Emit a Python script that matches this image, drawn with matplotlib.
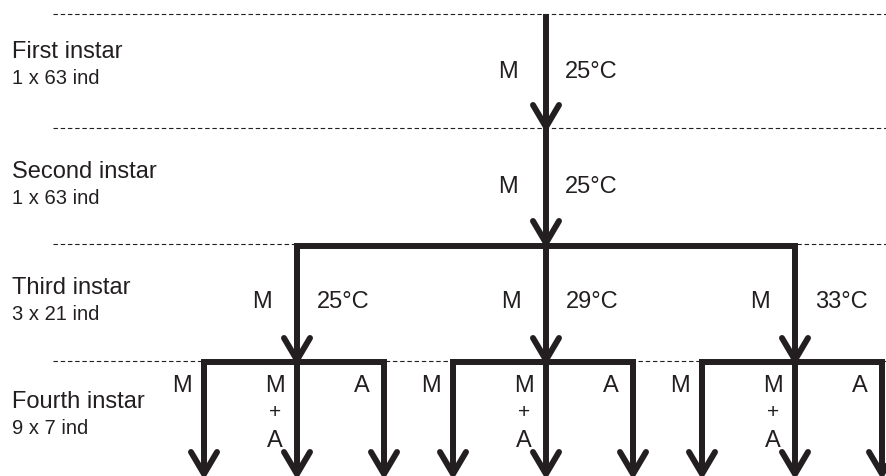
import matplotlib.pyplot as plt

# stage labels shown on the left
STAGES = ["First instar", "Second instar", "Third instar", "Fourth instar"]
COUNTS = ["1 x 63 ind", "1 x 63 ind", "3 x 21 ind", "9 x 7 ind"]
# rearing temperature per step
TEMPS_TOP = ["25°C", "25°C"]
TEMPS_THIRD = ["25°C", "29°C", "33°C"]
# labels on the fourth-instar sub-branches
FOURTH_LABELS = ["M", "M\n+\nA", "A"]

INK = "#231f20"
W, H = 887, 477
LW = 4.3  # points, ~6 px at dpi 100

# layout in pixel units (y grows downward)
DASH_Y = [15, 129, 245, 362]
STAGE_Y = [52, 172, 288, 402]
X_MAIN = 546
X_THIRD = [297, 546, 795]
SUB_OFF = [-93, 0, 87]
Y_END = 475
STACK_Y = [386, 413, 441]


def arrow(ax, x, y0, y1):
    ax.plot([x, x], [y0, y1 - 2], color=INK, lw=LW, solid_capstyle="butt")
    ax.plot([x - 13, x, x + 13], [y1 - 22, y1, y1 - 22], color=INK, lw=LW,
            solid_capstyle="round", solid_joinstyle="miter")


def main() -> None:
    plt.rcParams["font.family"] = ["Liberation Sans", "DejaVu Sans"]
    fig = plt.figure(figsize=(W / 100, H / 100), dpi=100)
    ax = fig.add_axes([0, 0, 1, 1])
    ax.set_xlim(0, W)
    ax.set_ylim(H, 0)
    ax.axis("off")

    for y in DASH_Y:
        ax.plot([53, W], [y, y], color=INK, lw=0.8, linestyle=(0, (4, 2.5)), zorder=1)

    for name, count, y in zip(STAGES, COUNTS, STAGE_Y):
        ax.text(12, y, name, fontsize=17, color=INK, ha="left", va="center")
        ax.text(12, y + 27, count, fontsize=14.5, color=INK, ha="left", va="center")

    # first and second instar
    for i, temp in enumerate(TEMPS_TOP):
        y0, y1 = DASH_Y[i], DASH_Y[i + 1] - 1
        arrow(ax, X_MAIN, y0, y1)
        ym = (y0 + y1) / 2 + 1
        ax.text(X_MAIN - 38, ym, "M", fontsize=17, color=INK, ha="center", va="center")
        ax.text(X_MAIN + 19, ym, temp, fontsize=17, color=INK, ha="left", va="center")

    # split into three temperature groups
    yb = DASH_Y[2] + 2
    ax.plot([X_THIRD[0], X_THIRD[0], X_THIRD[-1], X_THIRD[-1]],
            [DASH_Y[3] - 20, yb, yb, DASH_Y[3] - 20], color=INK, lw=LW,
            solid_joinstyle="miter", solid_capstyle="butt", zorder=2)
    for x, temp in zip(X_THIRD, TEMPS_THIRD):
        arrow(ax, x, yb, DASH_Y[3] - 1)
        ax.text(x - 35, 302, "M", fontsize=17, color=INK, ha="center", va="center")
        ax.text(x + 20, 302, temp, fontsize=17, color=INK, ha="left", va="center")

        # fourth instar sub-branches
        yc = DASH_Y[3] + 1
        xl, xr = x + SUB_OFF[0], x + SUB_OFF[-1]
        ax.plot([xl, xl, xr, xr], [Y_END - 20, yc, yc, Y_END - 20], color=INK,
                lw=LW, solid_joinstyle="miter", solid_capstyle="butt", zorder=2)
        for off, lab in zip(SUB_OFF, FOURTH_LABELS):
            arrow(ax, x + off, yc, Y_END)
            for part, ys in zip(lab.split("\n"), STACK_Y):
                ax.text(x + off - 22, ys, part, fontsize=17 if part != "+" else 15,
                        color=INK, ha="center", va="center")

    fig.savefig("out.png", dpi=100)
    plt.close(fig)


if __name__ == "__main__":
    main()
